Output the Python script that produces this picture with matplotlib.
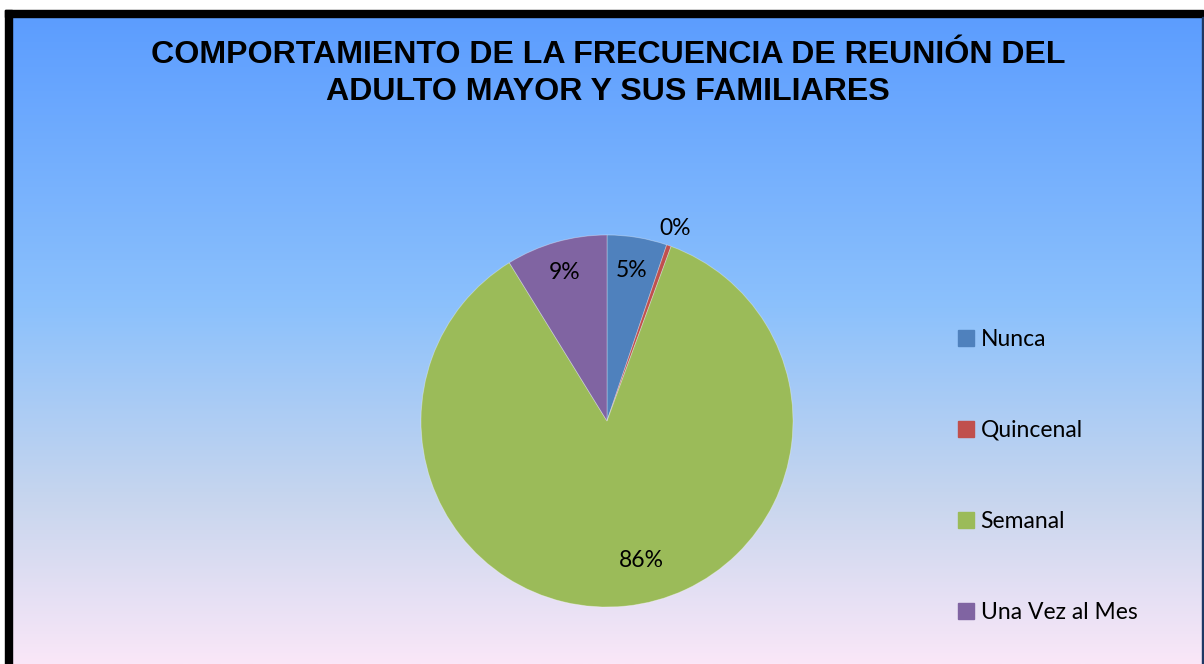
import numpy as np
import matplotlib
matplotlib.use("Agg")
import matplotlib.pyplot as plt
from matplotlib.patches import Rectangle
from matplotlib.lines import Line2D
from matplotlib.colors import LinearSegmentedColormap

# Data
categories = ["Nunca", "Quincenal", "Semanal", "Una Vez al Mes"]
values = [5.2, 0.4, 85.6, 8.8]
pct_labels = ["5%", "0%", "86%", "9%"]
colors = ["#4F81BD", "#C0504D", "#9BBB59", "#8064A2"]
title = "COMPORTAMIENTO DE LA FRECUENCIA DE REUNIÓN DEL\nADULTO MAYOR Y SUS FAMILIARES"

W, H = 1204, 664
fig = plt.figure(figsize=(W / 100, H / 100), dpi=100)
fig.patch.set_facecolor("white")

def fx(px):
    return px / W

def fy(py):
    return 1 - py / H

# Gradient background
bg = fig.add_axes([fx(12), 0, fx(1202) - fx(12), fy(17)])
bg.set_axis_off()
cmap = LinearSegmentedColormap.from_list(
    "bg",
    [(0.0, (92/255, 157/255, 255/255)),
     (0.45, (140/255, 193/255, 252/255)),
     (0.75, (200/255, 214/255, 238/255)),
     (1.0, (250/255, 231/255, 248/255))])
grad = np.linspace(0, 1, 256).reshape(-1, 1)
bg.imshow(grad, aspect="auto", cmap=cmap, extent=[0, 1, 0, 1], origin="upper")
bg.set_xlim(0, 1)
bg.set_ylim(0, 1)

# Frame lines
fig.patches.append(Rectangle((fx(5), fy(17)), fx(1203) - fx(5), fy(10) - fy(17),
                             transform=fig.transFigure, color="black", zorder=5))
fig.patches.append(Rectangle((fx(5), 0), fx(12) - fx(5), fy(10),
                             transform=fig.transFigure, color="black", zorder=5))
fig.patches.append(Rectangle((fx(1202), 0), fx(1204) - fx(1202), fy(17),
                             transform=fig.transFigure, color="#1F3864", zorder=5))

# Title
fig.text(fx(608), fy(73.5), title, ha="center", va="center",
         fontsize=23.1, fontweight="bold", family="Liberation Sans",
         linespacing=1.27, color="black")

# Pie
R = 186
cx, cy = 607, 421
ax = fig.add_axes([fx(cx - R), fy(cy + R), 2 * R / W, 2 * R / H])
ax.set_axis_off()
wedges, _ = ax.pie(values, colors=colors, startangle=90, counterclock=False,
                   radius=1.0, wedgeprops=dict(linewidth=0.6, edgecolor=(1, 1, 1, 0.35)))
ax.set_xlim(-1, 1)
ax.set_ylim(-1, 1)
ax.set_aspect("equal")

# label positions (radius fraction, angular offset in degrees)
label_r = [0.82, 1.10, 0.77, 0.83]
label_off = [0, 0, 8, 0]
for w, lab, r, off in zip(wedges, pct_labels, label_r, label_off):
    mid = np.deg2rad((w.theta1 + w.theta2) / 2 + off)
    ax.text(r * np.cos(mid), r * np.sin(mid), lab, ha="center", va="center",
            fontsize=16.5, family="Lato", color="black")

# Legend
handles = [Line2D([0], [0], marker="s", linestyle="none", markersize=11,
                  markerfacecolor=c, markeredgecolor=c) for c in colors]
leg = fig.legend(handles, categories, loc="center left",
                 bbox_to_anchor=(fx(944), fy(476)), frameon=False,
                 prop=dict(family="Lato", size=16.5), labelspacing=3.06,
                 handletextpad=0.2, handlelength=0.9, borderpad=0)

fig.savefig("out.png", dpi=100)
